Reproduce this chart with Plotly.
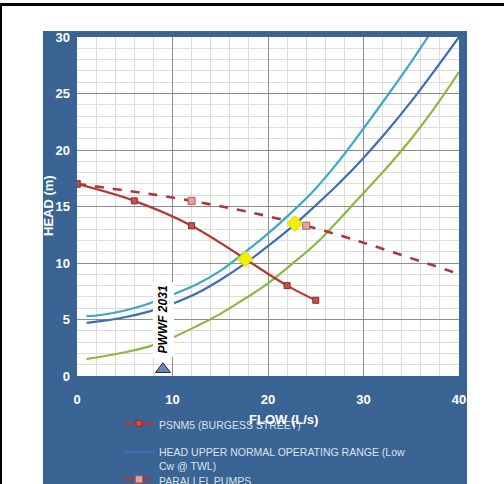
import plotly.graph_objects as go

# ---------------- data ----------------
psnm5_flow = [0, 6, 12, 22, 25]
psnm5_head = [17.0, 15.5, 13.3, 8.0, 6.7]

parallel_flow = [0, 12, 24, 44, 50]
parallel_head = [17.0, 15.5, 13.3, 8.0, 6.7]

sys_flow = [1, 2.5, 5, 7.5, 10, 12.5, 15, 17.5, 20, 22.5, 25, 27.5, 30, 32.5, 35, 37.5, 40]
sys_high = [5.3, 5.4, 5.8, 6.4, 7.2, 8.1, 9.3, 10.9, 12.6, 14.5, 16.6, 19.1, 21.9, 24.8, 27.8, 31.0, 34.4]
sys_upper = [4.7, 4.85, 5.2, 5.7, 6.4, 7.3, 8.5, 9.9, 11.5, 13.2, 15.1, 17.1, 19.3, 21.7, 24.3, 27.1, 30.0]
sys_low = [1.5, 1.7, 2.1, 2.6, 3.4, 4.4, 5.5, 6.8, 8.2, 9.9, 11.7, 13.9, 16.2, 18.5, 21.0, 23.8, 26.9]

duty_flow = [17.6, 22.8]
duty_head = [10.35, 13.5]

pwwf_flow = [9]
pwwf_head = [0.6]
pwwf_label = "PWWF 2031"

x_ticks = [0, 10, 20, 30, 40]
y_ticks = [0, 5, 10, 15, 20, 25, 30]

# ---------------- figure ----------------
W, H = 504, 484
L, R, T, B = 77, 45, 37, 108
pw, ph = W - L - R, H - T - B

def px(xp):
    return (xp - L) / pw

def py(yp):
    return (H - B - yp) / ph

PANEL = "#3A6493"
sans = "Liberation Sans, Arial"

fig = go.Figure()

fig.add_trace(go.Scatter(x=sys_flow, y=sys_high, mode="lines", line=dict(color="#3AAAC3", width=2.2, shape="spline"),
                         showlegend=False, name="HEAD HIGH"))
fig.add_trace(go.Scatter(x=sys_flow, y=sys_upper, mode="lines", line=dict(color="#3E6DB4", width=2.2, shape="spline"),
                         name="HEAD UPPER NORMAL OPERATING RANGE (Low<br>Cw @ TWL)", legend="legend2"))
fig.add_trace(go.Scatter(x=sys_flow, y=sys_low, mode="lines", line=dict(color="#8DB840", width=2.2, shape="spline"),
                         showlegend=False, name="HEAD LOWER"))
fig.add_trace(go.Scatter(x=parallel_flow, y=parallel_head, mode="lines+markers",
                         line=dict(color="#A8393A", width=2.6, dash="dash", shape="spline"),
                         marker=dict(symbol="square", size=7, color="#E3A3A3", line=dict(color="#B85A5A", width=1)),
                         name="PARALLEL PUMPS", legend="legend3"))
fig.add_trace(go.Scatter(x=psnm5_flow, y=psnm5_head, mode="lines+markers",
                         line=dict(color="#B23A36", width=2.2, shape="spline"),
                         marker=dict(symbol="square", size=6, color="#C8504C", line=dict(color="#8E2A28", width=1)),
                         name="PSNM5 (BURGESS STREET)", legend="legend"))
fig.add_trace(go.Scatter(x=duty_flow, y=duty_head, mode="markers",
                         marker=dict(symbol="diamond", size=12, color="#F4EE00", line=dict(color="#E0D800", width=1)),
                         showlegend=False, name="Duty points"))
fig.add_trace(go.Scatter(x=pwwf_flow, y=pwwf_head, mode="markers", cliponaxis=False,
                         marker=dict(symbol="triangle-up", size=13, color="#6485B8", line=dict(color="#2A2A2A", width=1)),
                         showlegend=False, name=pwwf_label))

fig.add_annotation(x=pwwf_flow[0], y=5.0, xref="x", yref="y", text="<b><i>PWWF 2031</i></b>", textangle=-90,
                   showarrow=False, bgcolor="white", font=dict(family=sans, size=12, color="black"),
                   borderpad=3)

fig.add_annotation(x=px(283), y=py(419), xref="paper", yref="paper", xanchor="center", yanchor="middle",
                   text="FLOW (L/s)", showarrow=False,
                   font=dict(family=sans, size=13, color="white", weight="bold"))
fig.add_annotation(x=px(48), y=py(206), xref="paper", yref="paper", xanchor="center", yanchor="middle",
                   text="HEAD (m)", textangle=-90, showarrow=False,
                   font=dict(family=sans, size=13, color="white", weight="bold"))

# white surround, frame
for (x0, x1, y0, y1) in [(0, 43, 0, 484), (467, 504, 0, 484), (0, 504, 0, 31)]:
    fig.add_shape(type="rect", xref="paper", yref="paper", x0=px(x0), x1=px(x1), y0=py(y1), y1=py(y0),
                  fillcolor="white", line=dict(width=0), layer="above")
fig.add_shape(type="line", xref="paper", yref="paper", x0=px(0), x1=px(504), y0=py(4.5), y1=py(4.5),
              line=dict(color="black", width=3), layer="above")
fig.add_shape(type="line", xref="paper", yref="paper", x0=px(1), x1=px(1), y0=py(4), y1=py(484),
              line=dict(color="black", width=2), layer="above")

legend_common = dict(bgcolor="rgba(0,0,0,0)", borderwidth=0, xanchor="left", yanchor="top",
                     font=dict(family=sans, size=10.5, color="#DCE2EC"), valign="top", itemwidth=30)

fig.update_layout(
    width=W, height=H,
    margin=dict(l=L, r=R, t=T, b=B, autoexpand=False),
    paper_bgcolor=PANEL,
    plot_bgcolor="white",
    legend=dict(x=px(119), y=py(410), **legend_common),
    legend2=dict(x=px(119), y=py(439), **legend_common),
    legend3=dict(x=px(119), y=py(466), **legend_common),
    xaxis=dict(range=[0, 40], tickvals=x_ticks, showgrid=True, gridcolor="#8C8C8C", gridwidth=1,
               minor=dict(dtick=2, showgrid=True, gridcolor="#DCDCDC", gridwidth=1),
               zeroline=False, showline=False, ticks="", ticklabelstandoff=14,
               tickfont=dict(family=sans, size=13, color="white", weight="bold")),
    yaxis=dict(range=[0, 30], tickvals=y_ticks, showgrid=True, gridcolor="#8C8C8C", gridwidth=1,
               minor=dict(dtick=1, showgrid=True, gridcolor="#DCDCDC", gridwidth=1),
               zeroline=False, showline=False, ticks="", ticklabelstandoff=6,
               tickfont=dict(family=sans, size=13, color="white", weight="bold")),
)

fig.write_html("out.html", config={"displayModeBar": False},
               post_script="document.body.style.margin='0';document.body.style.overflow='hidden';")
